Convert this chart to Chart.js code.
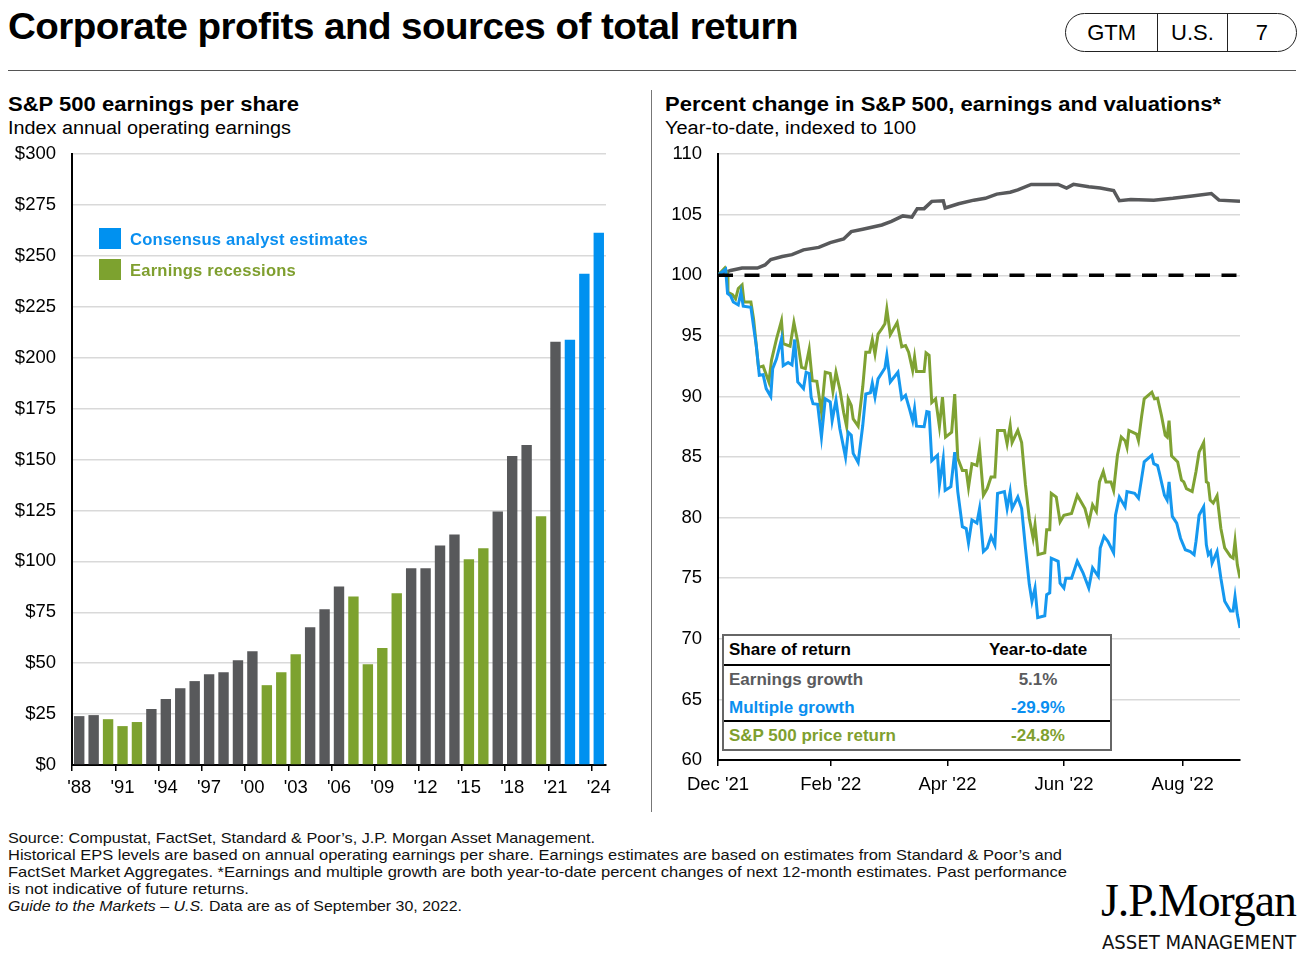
<!DOCTYPE html>
<html><head><meta charset="utf-8">
<script src="https://cdn.jsdelivr.net/npm/chart.js@4.4.1/dist/chart.umd.min.js"></script>
<style>
body{margin:0;background:#fff;width:1302px;height:968px;position:relative;overflow:hidden;font-family:"Liberation Sans",Arial,sans-serif;color:#000}
.abs{position:absolute;white-space:nowrap}
canvas{position:absolute}
.title{left:8px;top:6px;font-size:36px;font-weight:bold;letter-spacing:-0.5px}
.pill{left:1065px;top:13px;width:230px;height:37px;border:1.5px solid #222;border-radius:20px;display:flex;font-size:22px}
.pill div{display:flex;align-items:center;justify-content:center;height:100%}
.sub1{font-size:20px;font-weight:bold}
.sub2{font-size:18px}
.leg{font-size:16px;font-weight:bold;letter-spacing:0.2px}
.sq{position:absolute;width:22px;height:21px}
.foot{left:8px;font-size:15px;line-height:17px;color:#111}
.tbl{left:722px;top:634px;width:386px;height:113px;border:2px solid #666;background:#fff}
.trow{position:absolute;left:0;width:386px;height:28px;font-size:17px;font-weight:bold}
.trow span{position:absolute;top:4px}
.trow .l{left:5px}
.trow .r{left:262px;width:104px;text-align:center}
</style></head><body>
<div class="abs title" data-fit="790">Corporate profits and sources of total return</div>
<div class="abs pill"><div style="width:92px;border-right:1px solid #222">GTM</div><div style="width:69px;border-right:1px solid #222">U.S.</div><div style="width:69px">7</div></div>
<div class="abs" style="left:8px;top:70px;width:1288px;height:0;border-top:1.5px solid #555"></div>
<div class="abs" style="left:651px;top:90px;width:0;height:722px;border-left:1px solid #777"></div>

<div class="abs sub1" style="left:8px;top:93px" data-fit="291">S&amp;P 500 earnings per share</div>
<div class="abs sub2" style="left:8px;top:118px" data-fit="283">Index annual operating earnings</div>
<div class="abs sub1" style="left:665px;top:93px" data-fit="556">Percent change in S&amp;P 500, earnings and valuations*</div>
<div class="abs sub2" style="left:665px;top:118px" data-fit="251">Year-to-date, indexed to 100</div>

<canvas id="eps" width="620" height="678" style="left:0;top:127px"></canvas>
<canvas id="ytd" width="600" height="678" style="left:655px;top:127px"></canvas>

<div class="sq" style="left:99px;top:228px;background:#0091f0"></div>
<div class="abs leg" style="left:130px;top:231px;color:#0a8ff0" data-fit="238">Consensus analyst estimates</div>
<div class="sq" style="left:99px;top:259px;background:#7da22f"></div>
<div class="abs leg" style="left:130px;top:262px;color:#7f9f2f" data-fit="166">Earnings recessions</div>

<div class="abs tbl">
  <div class="trow" style="top:0;color:#000"><span class="l">Share of return</span><span class="r">Year-to-date</span></div>
  <div class="abs" style="left:0;top:28px;width:386px;border-top:2px solid #000"></div>
  <div class="trow" style="top:30px;color:#5a5b5d;font-weight:600"><span class="l">Earnings growth</span><span class="r">5.1%</span></div>
  <div class="trow" style="top:58px;color:#0a8ff0"><span class="l">Multiple growth</span><span class="r">-29.9%</span></div>
  <div class="abs" style="left:0;top:84px;width:386px;border-top:2px solid #000"></div>
  <div class="trow" style="top:86px;color:#7f9f2f"><span class="l">S&amp;P 500 price return</span><span class="r">-24.8%</span></div>
</div>

<div class="abs foot" style="top:829px" data-fit="587">Source: Compustat, FactSet, Standard &amp; Poor’s, J.P. Morgan Asset Management.</div>
<div class="abs foot" style="top:846px" data-fit="1054">Historical EPS levels are based on annual operating earnings per share. Earnings estimates are based on estimates from Standard &amp; Poor’s and</div>
<div class="abs foot" style="top:863px" data-fit="1059">FactSet Market Aggregates. *Earnings and multiple growth are both year-to-date percent changes of next 12-month estimates. Past performance</div>
<div class="abs foot" style="top:880px" data-fit="241">is not indicative of future returns.</div>
<div class="abs foot" style="top:897px" data-fit="454"><i>Guide to the Markets – U.S.</i> Data are as of September 30, 2022.</div>

<div class="abs" style="left:1101px;top:874px;font-family:'Liberation Serif','Times New Roman',serif;font-size:46px;letter-spacing:-1px" data-fit="195">J.P.Morgan</div>
<div class="abs" style="left:1102px;top:930px;font-family:'DejaVu Sans Condensed','DejaVu Sans',sans-serif;font-size:20px;color:#111" data-fit="194">ASSET MANAGEMENT</div>

<script>
// ---------- Left chart data: S&P 500 operating EPS ----------
const epsYears = ["'88","'89","'90","'91","'92","'93","'94","'95","'96","'97","'98","'99","'00","'01","'02","'03","'04","'05","'06","'07","'08","'09","'10","'11","'12","'13","'14","'15","'16","'17","'18","'19","'20","'21","'22","'23","'24"];
const epsValues = [24.0,24.5,22.5,19.1,21.1,27.5,32.4,37.7,41.2,44.6,45.6,51.5,55.9,39.2,45.6,54.4,67.6,76.5,87.7,82.8,49.5,57.4,84.3,96.6,96.6,107.8,113.2,101.0,106.4,124.5,151.8,157.2,122.1,207.8,208.8,241.2,261.4];
// g = historical, r = earnings recession, e = consensus estimate
const epsTypes = ["g","g","r","r","r","g","g","g","g","g","g","g","g","r","r","r","g","g","g","r","r","r","r","g","g","g","g","r","r","g","g","g","r","g","e","e","e"];
const epsTickValues = [0,25,50,75,100,125,150,175,200,225,250,275,300];

// ---------- Right chart data: YTD index (days since Dec 31, 2021) ----------
const dateTickDays = [0,59,120,181,243];
const dateTickLabels = ["Dec '21","Feb '22","Apr '22","Jun '22","Aug '22"];
const baseline = [[0,100],[273,100]];
const earningsGrowth = [[0,100],[6.6,100.4],[12.6,100.6],[20.6,100.6],[24.6,100.85],[27.6,101.3],[33.6,101.55],[38.7,101.7],[44.7,102.1],[52.7,102.3],[58.7,102.7],[65.7,103.0],[69.7,103.6],[75.7,103.8],[85.7,104.15],[90.7,104.45],[96.7,104.9],[101.4,104.8],[104.2,105.5],[107.8,105.5],[111.8,106.1],[117.8,106.15],[118.8,105.55],[125.8,105.9],[133.8,106.2],[139.8,106.35],[145.8,106.7],[152.8,106.85],[156.8,107.05],[163.8,107.5],[177.9,107.5],[182.3,107.2],[185.9,107.5],[193.9,107.3],[199.9,107.2],[206.9,107.0],[209.9,106.15],[215.9,106.25],[227.9,106.2],[237.9,106.35],[248,106.55],[258,106.75],[262,106.2],[273,106.1]];
const multipleGrowth = [[0,100],[4,100.5],[5,98.5],[6.6,98.3],[8,97.8],[10.6,97.55],[12,98.6],[13.2,97.45],[17.2,97.35],[20,94.2],[21.6,91.75],[23.6,91.8],[25.2,90.65],[27.6,90.0],[28.6,92.3],[30.6,93.1],[33.2,94.75],[34.1,92.55],[36.7,92.8],[38.7,92.6],[40.1,94.7],[41.7,91.2],[44.7,90.65],[46.1,92.0],[47.7,91.9],[48.7,89.95],[49.7,89.4],[52.1,89.35],[54.1,86.65],[56.1,89.8],[58.7,89.55],[59.7,88.0],[61.7,89.7],[63.7,87.35],[66.7,85.0],[68.1,87.05],[69.7,86.8],[70.7,85.3],[73.3,84.55],[75.7,87.6],[77.3,90.2],[79.7,90.3],[80.7,91.1],[82.1,89.95],[83.7,91.45],[87.3,92.35],[88.3,93.4],[90.1,91.2],[94.1,92.0],[96.1,89.8],[98.1,90.1],[100.1,89.0],[101.8,88.0],[102.8,89.0],[103.8,87.55],[107.8,87.5],[109.2,88.75],[110.4,88.7],[111.8,84.7],[114.8,85.15],[115.8,82.7],[117.8,84.85],[118.8,82.25],[121.8,82.55],[123.8,85.4],[125.4,82.15],[127.8,79.25],[129.8,79.1],[131,77.9],[132.8,79.8],[135.4,79.55],[136.8,80.75],[138.8,77.2],[140.8,77.5],[142.8,78.45],[144.8,77.75],[146.2,82.0],[149.8,82.15],[151.2,80.75],[152.8,82.15],[153.8,80.75],[156.8,81.7],[158.8,80.75],[160.8,77.5],[162.8,74.5],[164.2,73.1],[165.8,74.2],[167.2,71.75],[170.9,71.9],[171.9,73.65],[173.5,73.8],[174.3,76.65],[177.9,76.4],[178.9,74.6],[180.9,74.2],[181.9,75.0],[184.9,75.0],[187.9,76.4],[190.9,75.45],[193.9,74.2],[195.9,75.85],[198.9,75.15],[199.9,77.5],[201.9,78.45],[203.9,78.05],[206.9,77.1],[207.9,80.2],[209.9,81.7],[212.9,80.9],[213.9,82.15],[217.9,82.0],[219.9,81.6],[221.5,83.2],[222.9,84.6],[226.9,85.15],[227.9,84.45],[229.9,84.3],[230.9,83.65],[233.5,81.85],[234.9,81.45],[235.9,82.95],[237.6,80.1],[239.9,79.55],[241.9,78.3],[244.4,77.35],[247,77.2],[249,76.95],[250,78.05],[251.6,80.2],[254,80.9],[255.4,77.75],[256.4,76.95],[257.6,77.2],[258.4,76.25],[261,77.2],[263,75.0],[265,73.1],[268,72.3],[269.4,72.3],[270.4,73.5],[271.6,72.0],[273,70.9]];
const priceReturn = [[0,100],[3.6,100.6],[5,100.1],[5.2,98.6],[7.6,98.4],[9.2,98.05],[10.6,98.9],[12.6,99.2],[13.6,97.8],[17.2,97.8],[18.6,96.4],[21.2,92.4],[23.6,92.5],[26.6,91.2],[28,93.0],[30.6,94.75],[33.2,96.25],[34.1,94.35],[37.7,94.15],[39.7,96.1],[41.7,94.5],[43.7,92.4],[45.7,92.3],[47.7,93.9],[49.3,91.3],[51.7,91.25],[54.1,88.7],[56.1,92.0],[58.7,91.9],[60.1,90.4],[61.7,92.0],[63.7,90.6],[65.7,88.7],[67.3,87.5],[68.1,89.8],[69.7,89.25],[70.7,88.15],[73.3,87.55],[75.7,90.8],[77.3,93.65],[79.3,93.65],[80.7,94.7],[82.1,93.5],[83.7,95.15],[85.7,95.6],[87.3,96.0],[88.3,97.2],[90.1,95.1],[93.7,96.1],[96.1,94.1],[98.1,94.2],[99.7,93.65],[101.8,92.15],[102.8,93.25],[103.8,92.05],[107.8,92.05],[108.8,93.6],[110.4,93.4],[111.8,89.5],[113.8,89.8],[115.8,87.5],[117.4,89.95],[119,86.65],[122.2,87.05],[123.8,90.2],[125.4,84.9],[127.8,83.9],[129.8,83.9],[131,82.5],[132.8,84.45],[135.4,84.3],[136.8,85.7],[138.8,81.85],[140.8,82.4],[142.8,83.35],[144.8,83.35],[146.2,87.2],[149.8,87.2],[151.2,86.1],[152.8,87.6],[153.8,86.2],[156.8,87.2],[158.8,86.2],[160.8,82.7],[162.8,79.95],[164.8,78.3],[165.8,79.4],[167.4,76.95],[170.9,77.1],[171.9,79.0],[173.5,79.0],[174.3,82.0],[176.9,81.7],[178.9,79.65],[180.9,80.2],[184.9,80.35],[187.9,81.85],[191.9,80.75],[193.9,79.55],[195.9,81.05],[197.9,80.5],[199.5,82.95],[201.5,83.8],[202.9,82.95],[205.5,82.95],[206.9,82.25],[208.9,85.15],[210.9,86.65],[212.9,86.35],[213.9,85.8],[214.9,87.2],[218.9,86.9],[219.9,86.35],[221.5,88.3],[222.9,89.8],[226.9,90.35],[228.3,89.8],[229.9,89.85],[231.9,88.45],[233.9,86.8],[234.9,86.65],[235.9,88.0],[237.2,85.1],[240.4,84.6],[242.4,83.1],[243.6,82.95],[245,82.4],[248,82.15],[250,83.8],[251.6,85.4],[254,86.2],[255.4,82.95],[256.4,82.85],[257.4,81.45],[259,81.2],[261,81.8],[263,79.1],[265,77.5],[268,76.8],[269.4,76.65],[270.4,78.05],[271.6,76.1],[273,75.0]];

const COLORS = {g:'#58595b', r:'#7da22f', e:'#0091f0'};
const LINE = {gray:'#58595b', blue:'#1598ef', green:'#7fa233'};
const FONT = {family:"'Liberation Sans', Arial, sans-serif", size:18.5};

Chart.defaults.font.family = FONT.family;

new Chart(document.getElementById('eps'), {
  type:'bar',
  data:{labels:epsYears, datasets:[{data:epsValues, backgroundColor:epsTypes.map(t=>COLORS[t]), barPercentage:0.72, categoryPercentage:1}]},
  options:{
    responsive:false, animation:false,
    layout:{padding:{top:12,right:14,left:0,bottom:0}},
    plugins:{legend:{display:false}, tooltip:{enabled:false}},
    scales:{
      x:{
        grid:{offset:true, drawOnChartArea:false, tickLength:6, lineWidth:1.5, color:c=>(c.index%3===0?'#000':'rgba(0,0,0,0)')},
        border:{color:'#000', width:2},
        ticks:{autoSkip:false, maxRotation:0, minRotation:0, padding:6, color:'#000', font:FONT, callback:(v,i)=>(i%3===0?epsYears[i]:'')},
        afterFit:s=>{s.height=40;}
      },
      y:{
        min:0, max:300,
        afterBuildTicks:s=>{s.ticks=epsTickValues.map(v=>({value:v}));},
        ticks:{padding:16, color:'#000', font:FONT, callback:v=>'$'+v},
        grid:{color:'#d9d9d9', lineWidth:1.5, drawTicks:false},
        border:{color:'#000', width:2},
        afterFit:s=>{s.width=72;}
      }
    }
  }
});

const toXY = arr => arr.map(p=>({x:p[0], y:p[1]}));
new Chart(document.getElementById('ytd'), {
  type:'line',
  data:{datasets:[
    {data:toXY(baseline), borderColor:'#000', borderWidth:3.5, borderDash:[15,11.5], pointRadius:0},
    {data:toXY(multipleGrowth), borderColor:LINE.blue, borderWidth:3, pointRadius:0, tension:0},
    {data:toXY(priceReturn), borderColor:LINE.green, borderWidth:3, pointRadius:0, tension:0},
    {data:toXY(earningsGrowth), borderColor:LINE.gray, borderWidth:3.5, pointRadius:0, tension:0}
  ]},
  options:{
    responsive:false, animation:false,
    layout:{padding:{top:12,right:15,left:0,bottom:0}},
    plugins:{legend:{display:false}, tooltip:{enabled:false}},
    scales:{
      x:{
        type:'linear', min:0, max:273,
        afterBuildTicks:s=>{s.ticks=dateTickDays.map(v=>({value:v}));},
        grid:{drawOnChartArea:false, tickLength:6, lineWidth:1.5, color:'#000'},
        border:{color:'#000', width:2},
        ticks:{autoSkip:false, maxRotation:0, padding:8, color:'#000', font:FONT, callback:(v,i)=>dateTickLabels[i]},
        afterFit:s=>{s.height=45;}
      },
      y:{
        min:60, max:110,
        ticks:{stepSize:5, padding:16, color:'#000', font:FONT},
        grid:{color:'#d9d9d9', lineWidth:1.5, drawTicks:false},
        border:{color:'#000', width:2},
        afterFit:s=>{s.width=63;}
      }
    }
  }
});

document.querySelectorAll('[data-fit]').forEach(el=>{
  const w = el.getBoundingClientRect().width;
  const t = +el.dataset.fit;
  el.style.transformOrigin = 'left top';
  el.style.transform = 'scaleX(' + (t/w) + ')';
});
</script>
</body></html>
